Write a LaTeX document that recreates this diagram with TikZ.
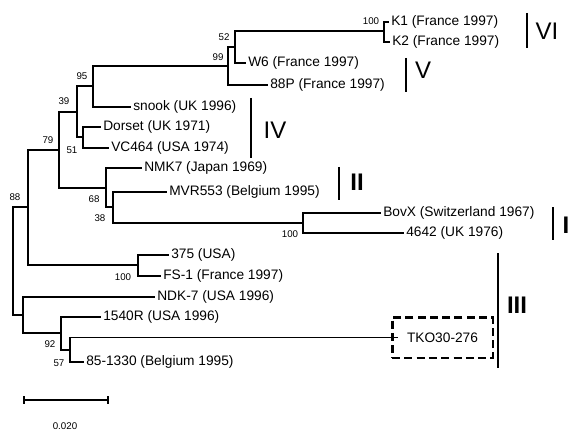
\documentclass[tikz,border=0pt]{standalone}
\usepackage{fontspec}
\setmainfont{Liberation Sans}
\begin{document}
\begin{tikzpicture}[x=0.75pt,y=-0.75pt,
  br/.style={line width=1.1pt},
  leaf/.style={anchor=west,inner xsep=1.5pt,inner ysep=0pt,font=\fontsize{10.3}{12}\selectfont},
  bs/.style={font=\fontsize{7.3}{8}\selectfont,inner sep=0pt},
  clade/.style={line width=1.2pt},
  roman/.style={font=\fontsize{18}{20}\selectfont,inner sep=0pt},
  romanb/.style={font=\fontsize{18}{20}\selectfont\bfseries,inner sep=0pt}]
\fill[white] (0,0) rectangle (571,431);
\useasboundingbox (0,0) rectangle (571,431);
% internal nodes
\coordinate (nK) at (384,31);
\coordinate (n52) at (235,47);
\coordinate (n99) at (228,66);
\coordinate (n95) at (93,86);
\coordinate (n51) at (83,137);
\coordinate (n39) at (77,112);
\coordinate (nB) at (303,223);
\coordinate (n38) at (113,207);
\coordinate (n68) at (106,188);
\coordinate (n79) at (59,150);
\coordinate (nFS) at (138,265);
\coordinate (n88) at (28,207);
\coordinate (n57) at (70,350);
\coordinate (n92) at (61,333);
\coordinate (nD) at (23,315);
\coordinate (root) at (13,261);
% leaves
\node[leaf] (K1) at (389,22) {K1 (France 1997)};
\node[leaf] (K2) at (390,42) {K2 (France 1997)};
\node[leaf] (W6) at (246,63) {W6 (France 1997)};
\node[leaf] (P88) at (268,85) {88P (France 1997)};
\node[leaf] (snook) at (131,107) {snook (UK 1996)};
\node[leaf] (Dorset) at (101,127) {Dorset (UK 1971)};
\node[leaf] (VC) at (109,148) {VC464 (USA 1974)};
\node[leaf] (NMK) at (142,168) {NMK7 (Japan 1969)};
\node[leaf] (MVR) at (167,192) {MVR553 (Belgium 1995)};
\node[leaf] (BovX) at (381,213) {BovX (Switzerland 1967)};
\node[leaf] (L4642) at (404,233) {4642 (UK 1976)};
\node[leaf] (L375) at (169,255) {375 (USA)};
\node[leaf] (FS) at (161,276) {FS-1 (France 1997)};
\node[leaf] (NDK) at (155,297) {NDK-7 (USA 1996)};
\node[leaf] (R1540) at (101,317) {1540R (USA 1996)};
\node[leaf] (B85) at (84,362) {85-1330 (Belgium 1995)};
\node[draw,line width=2pt,dash pattern=on 6pt off 3.2pt,minimum width=75.5pt,minimum height=30.5pt,inner sep=0pt,font=\fontsize{10.3}{12}\selectfont] (TKO) at (442.5,337.5) {TKO30-276};
% branches
\draw[br] (nK) |- (K1.west);
\draw[br] (nK) |- (K2.west);
\draw[br] (n52) |- (nK);
\draw[br] (n52) |- (W6.west);
\draw[br] (n99) |- (n52);
\draw[br] (n99) |- (P88.west);
\draw[br] (n95) |- (n99);
\draw[br] (n95) |- (snook.west);
\draw[br] (n51) |- (Dorset.west);
\draw[br] (n51) |- (VC.west);
\draw[br] (n39) |- (n95);
\draw[br] (n39) |- (n51);
\draw[br] (nB) |- (BovX.west);
\draw[br] (nB) |- (L4642.west);
\draw[br] (n38) |- (MVR.west);
\draw[br] (n38) |- (nB);
\draw[br] (n68) |- (NMK.west);
\draw[br] (n68) |- (n38);
\draw[br] (n79) |- (n39);
\draw[br] (n79) |- (n68);
\draw[br] (nFS) |- (L375.west);
\draw[br] (nFS) |- (FS.west);
\draw[br] (n88) |- (n79);
\draw[br] (n88) |- (nFS);
\draw[br] (n57) |- ([xshift=5.5pt]TKO.west);
\draw[br] (n57) |- (B85.west);
\draw[br] (n92) |- (R1540.west);
\draw[br] (n92) |- (n57);
\draw[br] (nD) |- (NDK.west);
\draw[br] (nD) |- (n92);
\draw[br] (root) |- (n88);
\draw[br] (root) |- (nD);
% bootstrap values
\node[bs] (b100a) at (371,21) {100};
\node[bs] (b52) at (224,37) {52};
\node[bs] (b99) at (218,57) {99};
\node[bs] (b95) at (82,76) {95};
\node[bs] (b39) at (64,101) {39};
\node[bs] (b79) at (48,140) {79};
\node[bs] (b51) at (72,150) {51};
\node[bs] (b68) at (94,199) {68};
\node[bs] (b38) at (100,218) {38};
\node[bs] (b100b) at (290,234) {100};
\node[bs] (b88) at (15,197) {88};
\node[bs] (b100c) at (123,277) {100};
\node[bs] (b92) at (50,344) {92};
\node[bs] (b57) at (59,363) {57};
% clade bars
\coordinate (vi1) at (527,13); \coordinate (vi2) at (527,48);
\coordinate (v1) at (406,58); \coordinate (v2) at (406,92);
\coordinate (iv1) at (251,98); \coordinate (iv2) at (251,158);
\coordinate (ii1) at (339,167); \coordinate (ii2) at (339,200);
\coordinate (i1) at (553,207); \coordinate (i2) at (553,240);
\coordinate (iii1) at (498,253); \coordinate (iii2) at (498,368);
\draw[clade] (vi1) -- (vi2);
\draw[clade] (v1) -- (v2);
\draw[clade] (iv1) -- (iv2);
\draw[clade] (ii1) -- (ii2);
\draw[clade] (i1) -- (i2);
\draw[clade] (iii1) -- (iii2);
\node[roman] (lVI) at (547,31) {VI};
\node[roman] (lV) at (423,70) {V};
\node[roman] (lIV) at (275,130) {IV};
\node[romanb] (lII) at (357,182) {II};
\node[romanb] (lI) at (566,225) {I};
\node[romanb] (lIII) at (517,305) {III};
% scale bar
\coordinate (s1) at (24,400); \coordinate (s2) at (108,400);
\draw[line width=1.1pt] (s1) -- (s2);
\draw[line width=1.1pt] ([yshift=3pt]s1) -- ([yshift=-3pt]s1);
\draw[line width=1.1pt] ([yshift=3pt]s2) -- ([yshift=-3pt]s2);
\node[bs] (sl) at (65,426) {0.020};
\end{tikzpicture}
\end{document}
